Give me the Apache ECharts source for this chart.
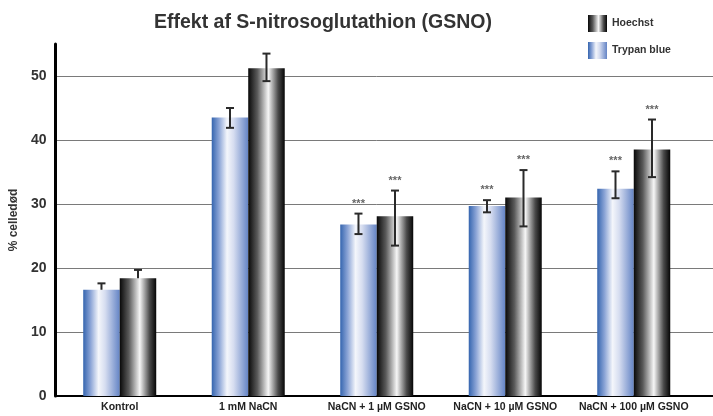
<!DOCTYPE html>
<html>
<head>
<meta charset="utf-8">
<script src="https://cdn.jsdelivr.net/npm/echarts@6/dist/echarts.min.js"></script>
<style>
  html, body { margin: 0; padding: 0; background: #fff; }
  #chart { width: 713px; height: 416px; }
</style>
</head>
<body>
<div id="chart"></div>
<script>
// Cell death (% celledød) per treatment, two staining methods
const categories = ['Kontrol', '1 mM NaCN', 'NaCN + 1 \u00b5M GSNO', 'NaCN + 10 \u00b5M GSNO', 'NaCN + 100 \u00b5M GSNO'];

const trypanValues = [16.6, 43.5, 26.8, 29.7, 32.4];
const trypanErrHigh = [17.6, 45.0, 28.5, 30.6, 35.1];
const trypanErrLow  = [16.6, 41.9, 25.3, 28.7, 30.9];

const hoechstValues = [18.4, 51.2, 28.1, 31.0, 38.5];
const hoechstErrHigh = [19.7, 53.5, 32.1, 35.3, 43.2];
const hoechstErrLow  = [18.4, 49.2, 23.5, 26.5, 34.2];

const trypanStars = ['', '', '***', '***', '***'];
const hoechstStars = ['', '', '***', '***', '***'];

const yTicks = [0, 10, 20, 30, 40, 50];

const BAR_W = 36.5;
const GRID = { left: 54.5, right: 15, top: 44, bottom: 20 };
const FONT = '"Liberation Sans", Arial, sans-serif';

const blueGrad = new echarts.graphic.LinearGradient(0, 0, 1, 0, [
  { offset: 0, color: '#3565af' },
  { offset: 0.2, color: '#8ba4d6' },
  { offset: 0.42, color: '#f4f6fb' },
  { offset: 0.6, color: '#d6ddf0' },
  { offset: 1, color: '#6484c5' }
]);
const blackGrad = new echarts.graphic.LinearGradient(0, 0, 1, 0, [
  { offset: 0, color: '#080808' },
  { offset: 0.25, color: '#5a5a5a' },
  { offset: 0.55, color: '#f6f6f6' },
  { offset: 0.82, color: '#4a4a4a' },
  { offset: 1, color: '#050505' }
]);

// Error bar + significance stars for one bar series
function errorSeries(name, values, high, low, stars, side) {
  const data = categories.map((c, i) => [i, high[i], low[i]]);
  return {
    type: 'custom',
    name: name + '-err',
    z: 5,
    silent: true,
    data: data,
    encode: { x: 0, y: [1, 2] },
    renderItem: function (params, api) {
      const i = params.dataIndex;
      const top = api.coord([i, api.value(1)]);
      const bot = api.coord([i, api.value(2)]);
      const x = top[0] + side * BAR_W / 2;
      const cap = 4;
      const st = { stroke: '#2a2a2a', lineWidth: 2 };
      const children = [
        { type: 'line', shape: { x1: x, y1: top[1], x2: x, y2: bot[1] }, style: st },
        { type: 'line', shape: { x1: x - cap, y1: top[1], x2: x + cap, y2: top[1] }, style: st }
      ];
      if (low[i] < values[i]) {
        children.push({ type: 'line', shape: { x1: x - cap, y1: bot[1], x2: x + cap, y2: bot[1] }, style: st });
      }
      if (stars[i]) {
        children.push({
          type: 'text',
          style: {
            x: x, y: top[1] - 10, text: stars[i], align: 'center', verticalAlign: 'middle',
            fill: '#666', font: 'bold 11px ' + FONT
          }
        });
      }
      return { type: 'group', children: children };
    }
  };
}

const chart = echarts.init(document.getElementById('chart'), null, { renderer: 'canvas' });

const option = {
  backgroundColor: '#fff',
  animation: false,
  title: {
    text: 'Effekt af S-nitrosoglutathion (GSNO)',
    left: 318, top: 8, textAlign: 'center',
    textStyle: { fontFamily: FONT, fontSize: 19.5, fontWeight: 'bold', color: '#333' }
  },
  legend: {
    data: ['Hoechst', 'Trypan blue'],
    orient: 'vertical',
    left: 583, top: 10,
    icon: 'rect',
    itemWidth: 19, itemHeight: 17, itemGap: 10,
    textStyle: { fontFamily: FONT, fontSize: 10.5, fontWeight: 'bold', color: '#333' }
  },
  grid: GRID,
  xAxis: {
    type: 'category',
    data: categories,
    axisLine: { lineStyle: { color: '#000', width: 2 } },
    axisTick: { show: false },
    axisLabel: { interval: 0, fontFamily: FONT, fontSize: 10.5, fontWeight: 'bold', color: '#222', margin: 6 }
  },
  yAxis: {
    type: 'value',
    min: 0, max: 55, interval: 10,
    name: '% celled\u00f8d',
    nameLocation: 'middle',
    nameGap: 34,
    nameTextStyle: { fontFamily: FONT, fontSize: 12, fontWeight: 'bold', color: '#333' },
    axisLine: { show: true, lineStyle: { color: '#000', width: 3 } },
    axisTick: { show: false },
    axisLabel: {
      fontFamily: FONT, fontSize: 14, fontWeight: 'bold', color: '#333', margin: 9,
      showMaxLabel: false,
      formatter: v => (yTicks.indexOf(v) >= 0 ? String(v) : '')
    },
    splitLine: { show: true, showMaxLine: false, showMinLine: false, lineStyle: { color: '#7a7a7a', width: 1 } }
  },
  series: [
    {
      name: 'Trypan blue', type: 'bar', data: trypanValues,
      barWidth: BAR_W, barGap: '0%',
      itemStyle: { color: blueGrad }
    },
    {
      name: 'Hoechst', type: 'bar', data: hoechstValues,
      barWidth: BAR_W, barGap: '0%',
      itemStyle: { color: blackGrad }
    },
    errorSeries('Trypan blue', trypanValues, trypanErrHigh, trypanErrLow, trypanStars, -1),
    errorSeries('Hoechst', hoechstValues, hoechstErrHigh, hoechstErrLow, hoechstStars, 1)
  ]
};

chart.setOption(option);

// Gridlines and the base line continue past the last category to the page edge
const xEnd = chart.getWidth() - GRID.right;
const ext = yTicks.map(v => {
  const y = Math.round(chart.convertToPixel({ yAxisIndex: 0 }, v)) + (v === 0 ? 0 : 0.5);
  return {
    type: 'line',
    shape: { x1: xEnd, y1: y, x2: chart.getWidth(), y2: y },
    style: { stroke: v === 0 ? '#000' : '#7a7a7a', lineWidth: v === 0 ? 2 : 1 },
    z: 1
  };
});
chart.setOption({ graphic: ext });
</script>
</body>
</html>
